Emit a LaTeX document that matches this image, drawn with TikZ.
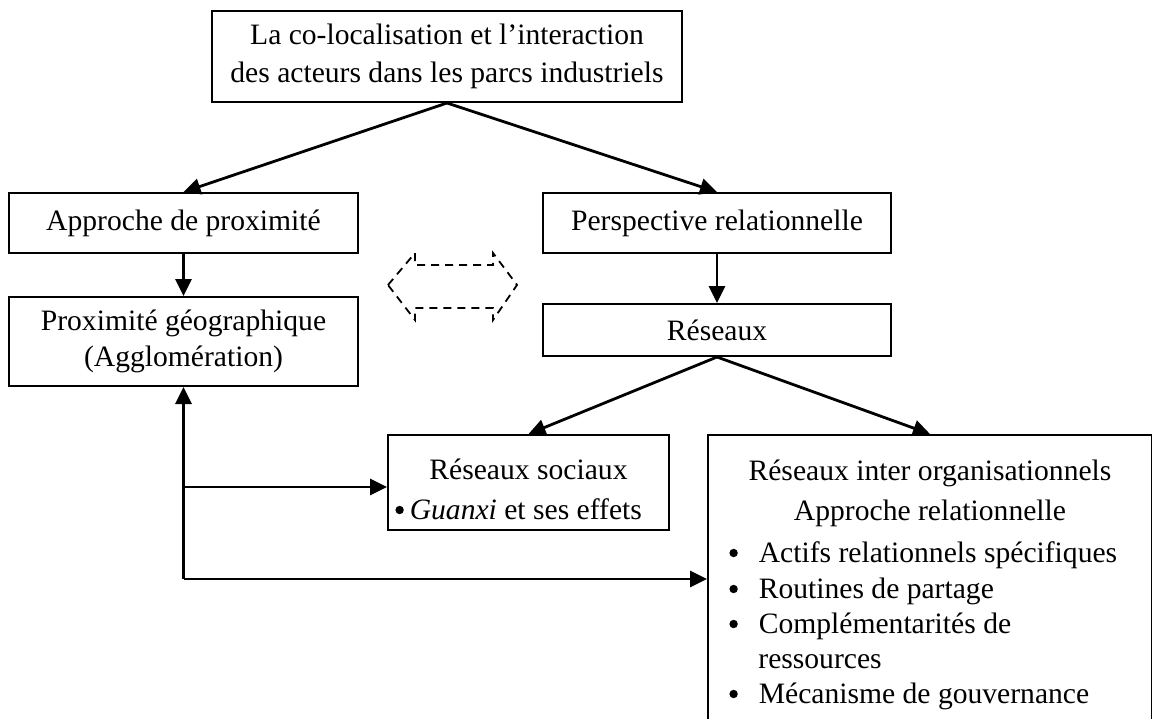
\documentclass[tikz,border=0pt]{standalone}
\usepackage{fontspec}
\setmainfont{Liberation Serif}
\usetikzlibrary{arrows.meta}
% round list mark, centred a little above the baseline
\newcommand\listdot{\tikz[baseline={(0pt,-4.5pt)}]\fill (0pt,0pt) circle (2.1pt);}
\begin{document}
\begin{tikzpicture}[x=0.5pt,y=-0.5pt,
  box/.style={draw,line width=1pt,inner sep=0pt,align=center,
              font=\fontsize{14.8}{19}\selectfont},
  txt/.style={inner sep=0pt,font=\fontsize{14.8}{18}\selectfont},
  arr/.style={line width=1.4pt,-{Triangle[length=8.5pt,width=8pt]}},
  hint/.style={line width=0.9pt,dash pattern=on 4pt off 3pt,line join=miter}
]
\useasboundingbox (0,0) rectangle (1152,718);

% boxes
\node[box,minimum width=235pt,minimum height=45.5pt] (top) at (447,56.5)
  {La co-localisation et l’interaction\\des acteurs dans les parcs industriels};
\node[box,minimum width=174.5pt,minimum height=30pt] (appr) at (183.5,223)
  {Approche de proximité};
\node[box,minimum width=174pt,minimum height=30pt] (persp) at (717,223)
  {Perspective relationnelle};
\node[box,minimum width=174.5pt,minimum height=44.5pt,
      font=\fontsize{14.8}{18}\selectfont] (prox) at (183.5,341.5)
  {Proximité géographique\\(Agglomération)};
\node[box,minimum width=174pt,minimum height=26pt] (res) at (717,330)
  {Réseaux};
\node[box,minimum width=140.5pt,minimum height=47.5pt] (soc) at (528.5,482.5) {};
\node[box,minimum width=222pt,minimum height=147.5pt] (inter) at (930,582.5) {};

% texts of the social networks box
\node[txt,anchor=base] (soct) at (528.5,479) {Réseaux sociaux};
\node[txt,anchor=base west] (socb) at (395,519)
  {\listdot\hspace{3pt}\textit{Guanxi} et ses effets};

% texts of the inter-organisational networks box
\node[txt,anchor=base] (intt) at (930,480) {Réseaux inter organisationnels};
\node[txt,anchor=base] (ints) at (930,520) {Approche relationnelle};
\node[txt,anchor=base west] (i1) at (729,562)
  {\listdot\hspace{10.5pt}Actifs relationnels spécifiques};
\node[txt,anchor=base west] (i2) at (729,598)
  {\listdot\hspace{10.5pt}Routines de partage};
\node[txt,anchor=base west] (i3) at (729,633)
  {\listdot\hspace{10.5pt}Complémentarités de};
\node[txt,anchor=base west] (i3b) at (758,668) {ressources};
\node[txt,anchor=base west] (i4) at (729,703)
  {\listdot\hspace{10.5pt}Mécanisme de gouvernance};

% dashed double arrow between the two approaches
\draw[hint] (388,285) -- (415,253) -- (415,265) -- (493,265) -- (493,253)
  -- (517,285) -- (493,320) -- (493,308) -- (415,308) -- (415,320) -- cycle;

% connectors
\draw[arr] (top.south) -- (appr.north);
\draw[arr] (top.south) -- (persp.north);
\draw[arr] (appr.south) -- (prox.north);
\draw[arr] (persp.south) -- (res.north);
\draw[arr] (res.south) -- (soc.north);
\draw[arr] (res.south) -- (inter.north);

\path (prox.south) ++(0,192) coordinate (corner);
\path (prox.south) ++(0,100) coordinate (tee);
\draw[arr] (corner) -- (prox.south);
\draw[arr] (corner) -- (corner -| inter.west);
\draw[arr] (tee) -- (tee -| soc.west);
\end{tikzpicture}
\end{document}
